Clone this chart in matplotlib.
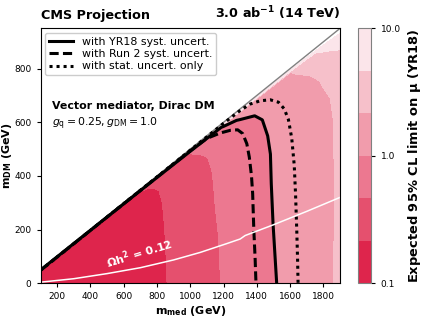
import numpy as np
import matplotlib
matplotlib.use("Agg")
import matplotlib.pyplot as plt
from matplotlib.lines import Line2D

# grid: mediator mass (GeV) and fraction r = mDM / (mmed/2)
mmed_nodes = [100, 300, 500, 700, 800, 900, 1000, 1100, 1200, 1300, 1400, 1500, 1600, 1700, 1800, 1900]
r_nodes = [0.0, 0.30, 0.50, 0.65, 0.75, 0.85, 0.90, 0.95, 0.98, 1.0]

# expected 95% CL limit on mu (YR18), one row per r node
mu_r000 = [0.11, 0.11, 0.12, 0.148, 0.186, 0.237, 0.300, 0.383, 0.484, 0.608, 0.764, 0.957, 1.20, 1.50, 1.88, 2.35]
mu_r030 = [0.11, 0.11, 0.12, 0.151, 0.190, 0.241, 0.307, 0.392, 0.499, 0.631, 0.797, 1.006, 1.24, 1.52, 1.88, 2.31]
mu_r050 = [0.11, 0.11, 0.12, 0.153, 0.193, 0.246, 0.318, 0.411, 0.525, 0.656, 0.822, 1.03, 1.26, 1.54, 1.89, 2.32]
mu_r065 = [0.11, 0.11, 0.12, 0.157, 0.197, 0.252, 0.326, 0.422, 0.536, 0.670, 0.838, 1.04, 1.28, 1.56, 1.91, 2.33]
mu_r075 = [0.11, 0.11, 0.12, 0.155, 0.200, 0.258, 0.335, 0.434, 0.548, 0.689, 0.865, 1.08, 1.32, 1.62, 1.98, 2.43]
mu_r085 = [0.11, 0.11, 0.12, 0.163, 0.209, 0.272, 0.353, 0.460, 0.582, 0.735, 0.929, 1.16, 1.45, 1.81, 2.28, 2.93]
mu_r090 = [0.11, 0.11, 0.12, 0.170, 0.224, 0.296, 0.392, 0.510, 0.646, 0.818, 1.03, 1.29, 1.62, 2.03, 2.77, 3.91]
mu_r095 = [0.11, 0.11, 0.12, 0.190, 0.253, 0.335, 0.445, 0.600, 0.810, 1.06, 1.29, 1.57, 1.91, 2.60, 4.20, 6.70]
mu_r098 = [0.11, 0.11, 0.133, 0.221, 0.285, 0.368, 0.485, 0.740, 1.05, 1.25, 1.49, 1.78, 2.12, 3.52, 6.00, 9.50]
mu_r100 = [30.0] * 16

# Run 2 syst. uncert. contour (mu = 1)
run2_mmed = [100, 400, 700, 1000, 1100, 1180, 1240, 1285, 1315, 1340, 1355, 1368, 1375, 1382, 1390, 1395]
run2_mdm = [48, 197, 346, 494, 540, 560, 570, 572, 558, 520, 470, 400, 335, 200, 90, 0]

# stat. uncert. only contour (mu = 1)
stat_mmed = [100, 500, 900, 1200, 1300, 1360, 1420, 1480, 1530, 1565, 1590, 1610, 1625, 1633, 1640, 1645, 1648]
stat_mdm = [48, 247, 446, 596, 644, 668, 680, 684, 675, 650, 610, 540, 440, 330, 200, 90, 0]

# relic density line
relic_mmed = [100, 300, 500, 700, 900, 1060, 1220, 1300, 1330, 1500, 1700, 1900]
relic_mdm = [4, 17, 36, 58, 87, 115, 148, 165, 178, 218, 268, 320]

band_colors = ['#de254c', '#e5506e', '#ec7890', '#f19cac', '#f6c0ca', '#fbe5ea']

mu = np.array([mu_r000, mu_r030, mu_r050, mu_r065, mu_r075,
               mu_r085, mu_r090, mu_r095, mu_r098, mu_r100])
X = np.array(mmed_nodes, dtype=float)[None, :] * np.ones((len(r_nodes), 1))
Y = np.array(r_nodes)[:, None] * X / 2.0
Z = np.log10(mu)

fig = plt.figure(figsize=(4.25, 3.19), dpi=100)
ax = fig.add_axes([0.0953, 0.112, 0.7047, 0.799])
cax = fig.add_axes([0.842, 0.112, 0.032, 0.799])

levels = np.linspace(-1, 1, 7)
cs = ax.contourf(X, Y, Z, levels=levels, colors=band_colors)
ax.plot([100, 1900], [50, 950], color='grey', lw=1.0)
ax.contour(X, Y, Z, levels=[0.0], colors='black', linewidths=2.2)
ax.plot(run2_mmed, run2_mdm, color='black', lw=2.2, ls=(0, (3, 1.4)))
ax.plot(stat_mmed, stat_mdm, color='black', lw=2.2, ls=(0, (1, 1.3)))
ax.plot(relic_mmed, relic_mdm, color='white', lw=1.1)
ax.text(508, 57, r'$\mathbf{\Omega h^2}$ = 0.12', color='white', fontsize=8,
        fontweight='bold', rotation=17, rotation_mode='anchor')

ax.set_xlim(100, 1900)
ax.set_ylim(0, 950)
ax.set_xticks(range(200, 1801, 200))
ax.set_yticks(range(0, 801, 200))
ax.tick_params(labelsize=6.5, length=3)
ax.set_xlabel(r'$\mathbf{m_{med}}$ (GeV)', fontsize=8, fontweight='bold', labelpad=2)
ax.set_ylabel(r'$\mathbf{m_{DM}}$ (GeV)', fontsize=8, fontweight='bold', labelpad=0.5)
ax.set_title('CMS Projection', loc='left', fontsize=9.2, fontweight='bold', pad=7)
ax.set_title(r'3.0 ab$^{\mathbf{-1}}$ (14 TeV)', loc='right', fontsize=9.2, fontweight='bold', pad=7)

handles = [Line2D([], [], color='black', lw=2.2),
           Line2D([], [], color='black', lw=2.2, ls=(0, (3, 1.4))),
           Line2D([], [], color='black', lw=2.2, ls=(0, (1, 1.3)))]
labels = ['with YR18 syst. uncert.', 'with Run 2 syst. uncert.', 'with stat. uncert. only']
ax.legend(handles, labels, loc='upper left', fontsize=7.9, handlelength=2.2,
          borderaxespad=0.4, labelspacing=0.22, framealpha=1, borderpad=0.35)

ax.text(0.037, 0.695, 'Vector mediator, Dirac DM', transform=ax.transAxes,
        fontsize=7.9, fontweight='bold', va='center')
ax.text(0.037, 0.625, r'$g_{\mathrm{q}} = 0.25, g_{\mathrm{DM}} = 1.0$', transform=ax.transAxes,
        fontsize=7.8, va='center')

cb = fig.colorbar(cs, cax=cax, ticks=[-1, 0, 1])
cb.set_ticklabels(['0.1', '1.0', '10.0'])
cb.ax.tick_params(labelsize=6.5, length=3)
cb.set_label(r'Expected 95% CL limit on $\mathbf{\mu}$ (YR18)', fontsize=9.4, fontweight='bold', labelpad=4)
cb.outline.set_edgecolor('grey')

fig.savefig('out.png', dpi=100)
